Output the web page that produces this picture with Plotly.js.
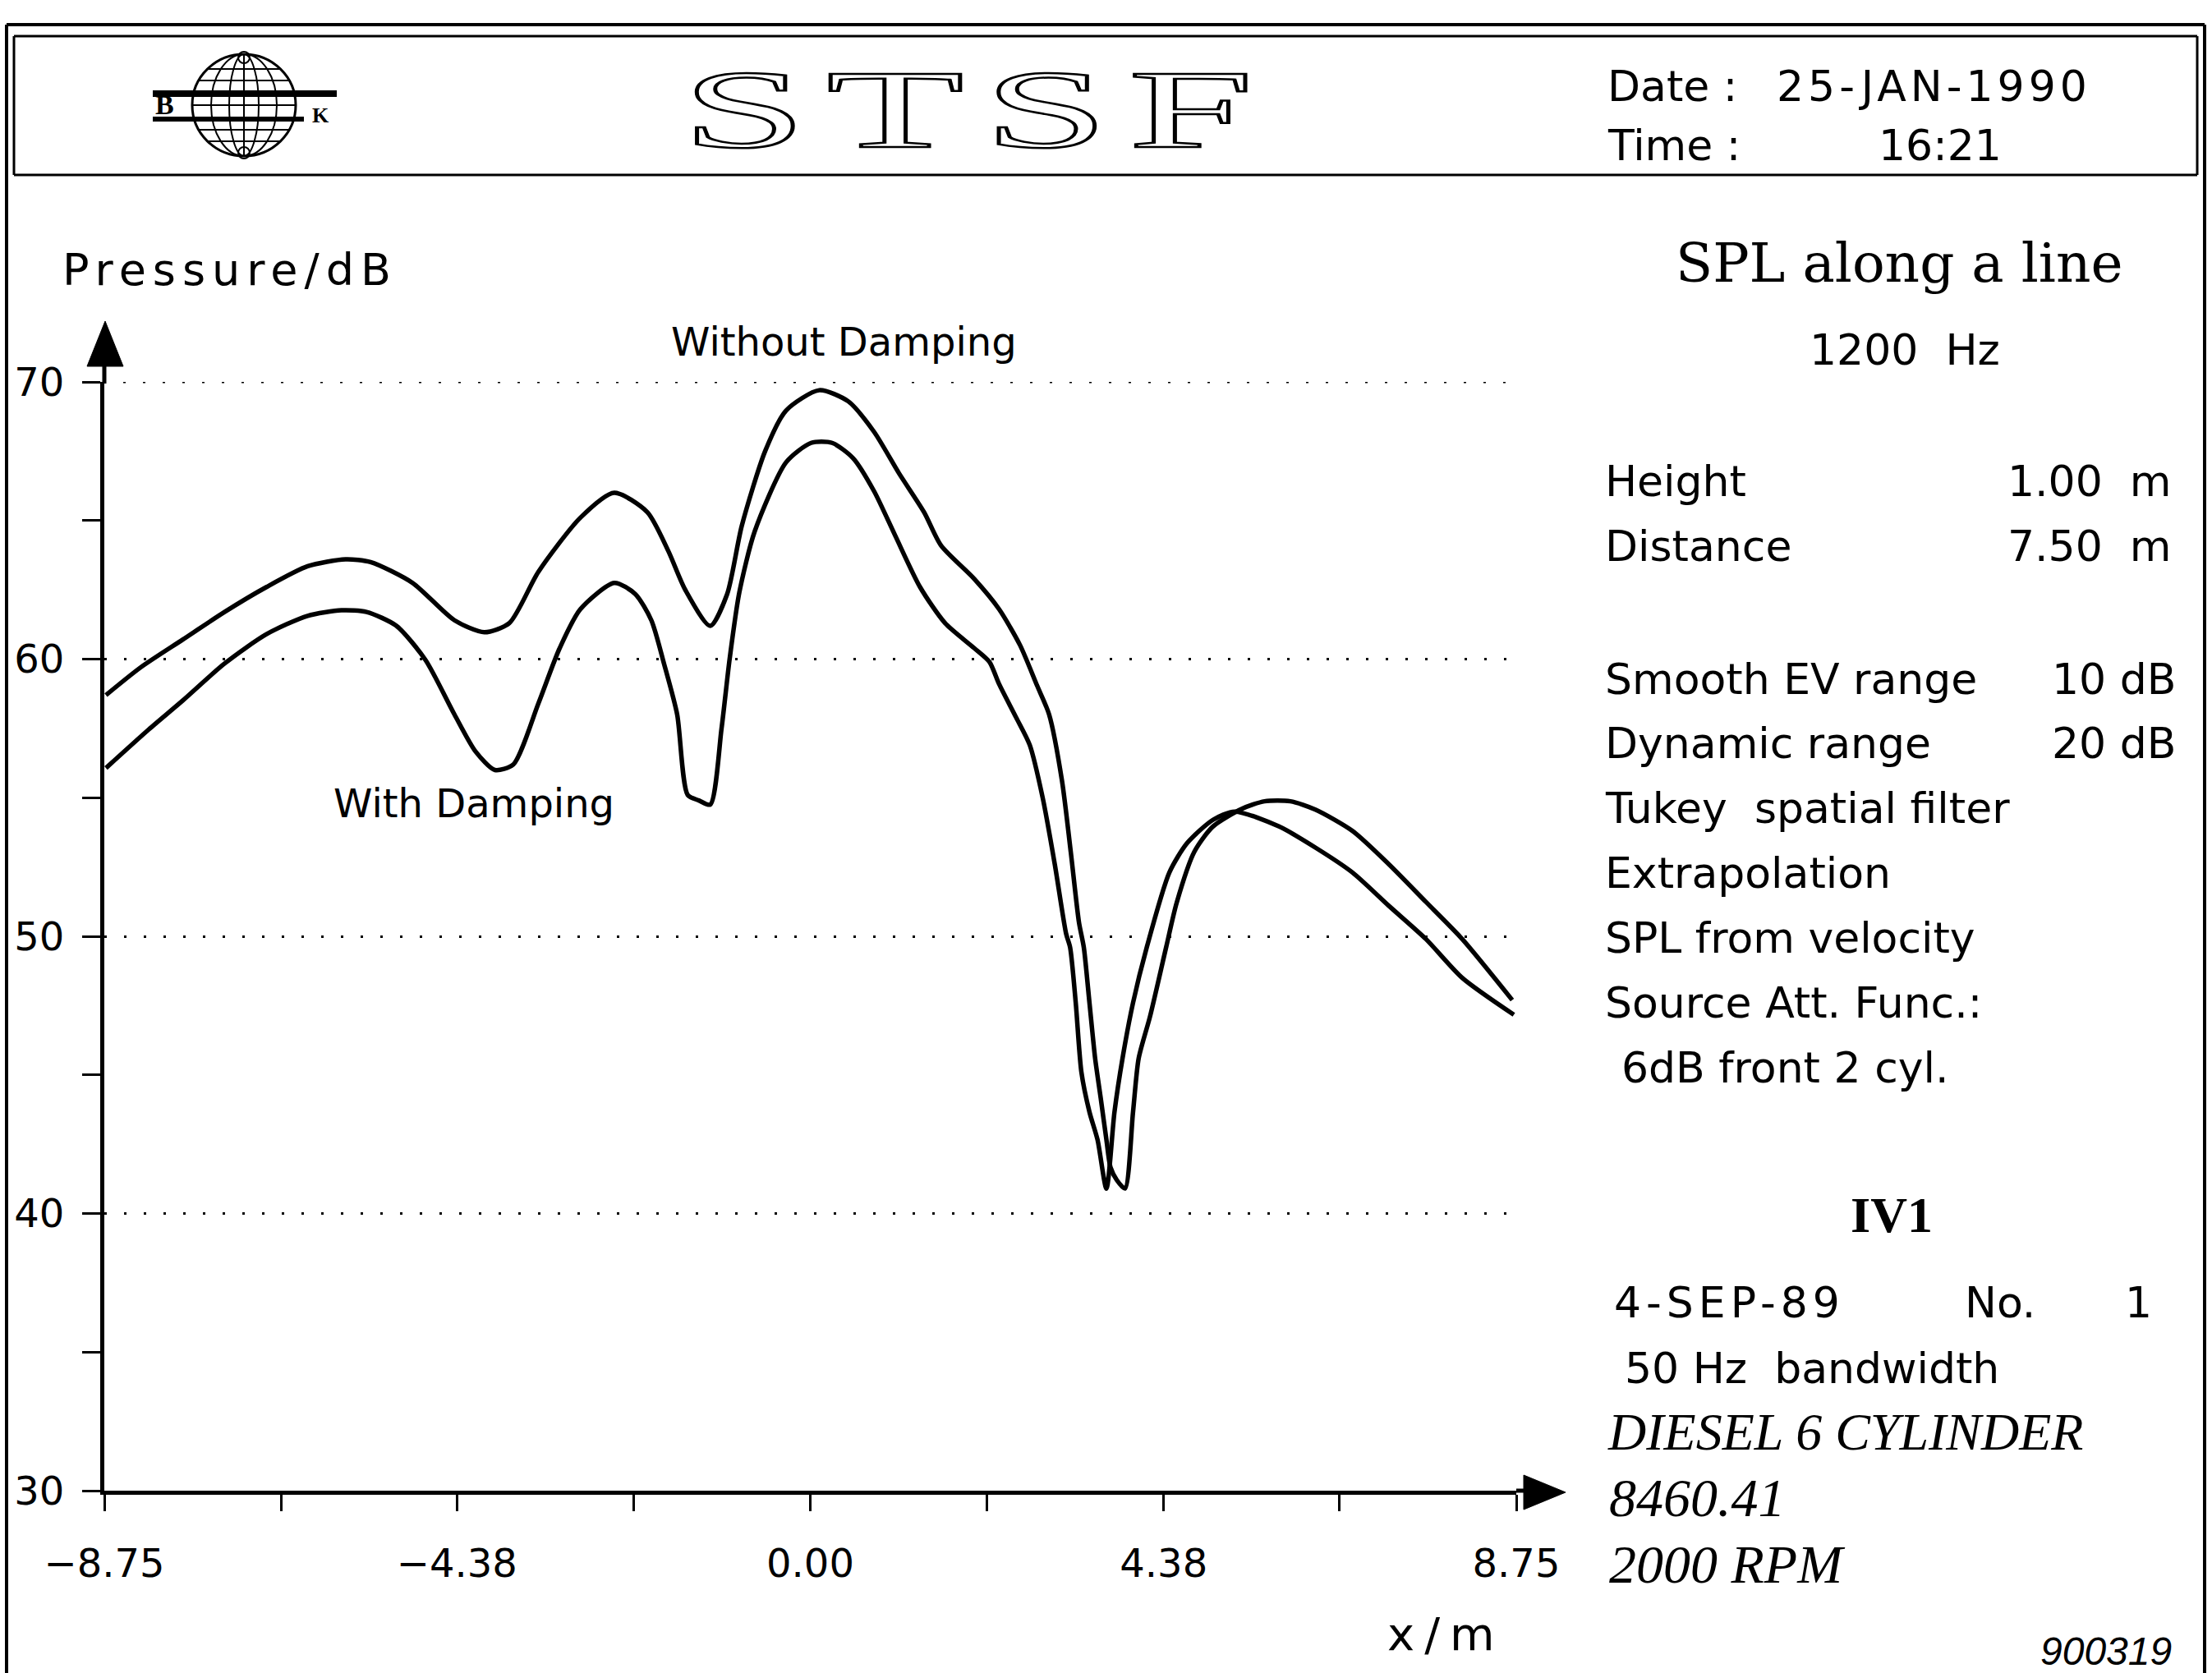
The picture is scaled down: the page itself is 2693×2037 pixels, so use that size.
<!DOCTYPE html>
<html>
<head>
<meta charset="utf-8">
<script src="https://cdn.plot.ly/plotly-3.0.1.min.js"></script>
<style>html,body{margin:0;padding:0;background:#fff;}#chart{width:2693px;height:2037px;}</style>
</head>
<body>
<div id="chart"></div>
<script>
// ---------- data ----------
const xTickVals = [-8.75, -4.38, 0, 4.38, 8.75];
const xTickText = ['\u22128.75', '\u22124.38', '0.00', '4.38', '8.75'];
const xMinorVals = [-6.56, -2.19, 2.19, 6.56];
const yTickVals = [30, 40, 50, 60, 70];
const yTickText = ['30', '40', '50', '60', '70'];
const yMinorVals = [35, 45, 55, 65];
const yGridTop = 70;

const withoutX = [-8.73,-8.30,-7.78,-7.26,-6.74,-6.23,-5.76,-5.45,-4.93,-4.41,-4.04,-3.73,-3.37,-2.85,-2.43,-2.02,-1.76,-1.55,-1.24,-1.03,-0.85,-0.56,-0.30,0.11,0.47,0.79,1.10,1.41,1.62,2.03,2.34,2.60,2.81,2.96,3.12,3.23,3.33,3.39,3.46,3.53,3.60,3.67,3.72,3.80,3.90,4.00,4.07,4.21,4.41,4.54,4.76,4.99,5.35,5.63,5.95,6.26,6.72,7.17,7.63,8.08,8.70];
const withoutY = [58.7,59.7,60.7,61.7,62.6,63.35,63.6,63.5,62.75,61.4,60.97,61.3,63.15,65.1,66.0,65.3,63.9,62.5,61.2,62.35,64.8,67.5,68.97,69.7,69.3,68.2,66.7,65.3,64.1,62.9,61.8,60.5,59.05,58.0,55.6,53.0,50.5,49.6,47.6,45.6,44.15,42.66,41.67,41.2,40.9,43.66,45.6,47.1,49.6,51.2,53.05,53.96,54.6,54.87,54.87,54.57,53.8,52.6,51.24,49.9,47.7];

const withX = [-8.73,-8.20,-7.78,-7.26,-6.74,-6.23,-5.81,-5.50,-5.13,-4.77,-4.41,-4.15,-3.91,-3.68,-3.37,-3.11,-2.85,-2.43,-2.17,-1.97,-1.81,-1.65,-1.52,-1.38,-1.24,-1.10,-1.00,-0.88,-0.69,-0.30,0.01,0.27,0.53,0.79,1.05,1.36,1.67,2.03,2.22,2.34,2.55,2.72,2.88,3.03,3.17,3.22,3.29,3.36,3.46,3.56,3.67,3.77,3.87,4.00,4.17,4.45,4.67,4.99,5.26,5.81,6.26,6.72,7.17,7.63,8.08,8.72];
const withY = [56.07,57.46,58.5,59.84,60.9,61.56,61.76,61.7,61.2,59.97,58.0,56.67,56.0,56.2,58.4,60.37,61.8,62.75,62.35,61.4,59.8,58.0,55.1,54.9,54.75,57.5,60.0,62.4,64.6,67.1,67.8,67.8,67.25,66.06,64.47,62.6,61.3,60.4,59.9,59.1,57.9,56.9,55.0,52.6,50.1,49.6,47.6,45.1,43.66,42.66,40.9,43.66,45.6,47.6,49.6,52.3,53.36,54.2,54.5,53.96,53.2,52.3,51.1,49.9,48.5,47.17];

// ---------- layout helpers (pixel -> paper) ----------
const W = 2693, H = 2037;
const L = 127, R = 1846, T = 465, B = 1815;
const px = X => (X - L) / (R - L);
const py = Y => (B - Y) / (B - T);

const SANS = 'DejaVu Sans';
const SERIF = 'DejaVu Serif';
const TSERIF = 'Liberation Serif';

function ann(text, X, Y, o) {
  o = o || {};
  return {
    text: text, xref: 'paper', yref: 'paper', x: px(X), y: py(Y),
    xanchor: o.xa || 'left', yanchor: 'middle', showarrow: false,
    font: {family: o.family || SANS, size: o.size || 52, color: '#000',
           style: o.style || 'normal', weight: o.weight || 'normal'}
  };
}
function line(X0, Y0, X1, Y1, w) {
  return {type: 'line', xref: 'paper', yref: 'paper', x0: px(X0), y0: py(Y0), x1: px(X1), y1: py(Y1),
          line: {color: '#000', width: w || 3}};
}
function poly(pts) {
  const d = pts.map((p, i) => (i ? 'L' : 'M') + px(p[0]) + ',' + py(p[1])).join(' ') + ' Z';
  return {type: 'path', xref: 'paper', yref: 'paper', path: d, fillcolor: '#000', line: {color: '#000', width: 1}};
}
function ellipse(cx, cy, rx, ry, w) {
  return {type: 'circle', xref: 'paper', yref: 'paper', x0: px(cx - rx), x1: px(cx + rx), y0: py(cy + ry), y1: py(cy - ry),
          line: {color: '#000', width: w || 2}};
}

const NB = '\u00a0';
const annotations = [
  ann('<span style="letter-spacing:8px">Pressure/dB</span>', 74, 329, {size: 54}),
  ann('Without Damping', 1027, 416, {xa: 'center', size: 48}),
  ann('With Damping', 577, 978, {xa: 'center', size: 48}),
  ann('<span style="letter-spacing:12px">x/m</span>', 1760, 1990, {xa: 'center', size: 56}),
  // header
  ann('<span style="fill:none;stroke:#000;stroke-width:2.5px;letter-spacing:12px">STSF</span>', 1190, 133, {xa: 'center', family: TSERIF, size: 136}),
  ann('Date :', 1955, 105),
  ann('<span style="letter-spacing:5px">25-JAN-1990</span>', 2161, 105),
  ann('Time :', 1955, 177),
  ann('16:21', 2285, 177),
  ann('B', 200, 127, {xa: 'center', family: TSERIF, size: 34, weight: 'bold'}),
  ann('K', 390, 140, {xa: 'center', family: TSERIF, size: 26, weight: 'bold'}),
  // right panel
  ann('SPL along a line', 2312, 320, {xa: 'center', family: SERIF, size: 66}),
  ann('1200' + NB + NB + 'Hz', 2319, 426, {xa: 'center'}),
  ann('Height', 1952, 586),
  ann('1.00' + NB + NB + 'm', 2646, 586, {xa: 'right'}),
  ann('Distance', 1952, 665),
  ann('7.50' + NB + NB + 'm', 2646, 665, {xa: 'right'}),
  ann('Smooth EV range', 1952, 827),
  ann('10 dB', 2651, 827, {xa: 'right'}),
  ann('Dynamic range', 1952, 905),
  ann('20 dB', 2651, 905, {xa: 'right'}),
  ann('Tukey' + NB + NB + 'spatial filter', 1952, 984),
  ann('Extrapolation', 1952, 1063),
  ann('SPL from velocity', 1952, 1142),
  ann('Source Att. Func.:', 1952, 1221),
  ann('6dB front 2 cyl.', 1972, 1300),
  ann('IV1', 2303, 1479, {xa: 'center', family: TSERIF, size: 62, weight: 'bold'}),
  ann('<span style="letter-spacing:6px">4-SEP-89</span>', 1963, 1586),
  ann('No.', 2390, 1586),
  ann('1', 2622, 1586, {xa: 'right'}),
  ann('50 Hz' + NB + NB + 'bandwidth', 1976, 1666),
  ann('DIESEL 6 CYLINDER', 1955, 1743, {family: TSERIF, size: 64, style: 'italic'}),
  ann('8460.41', 1957, 1823, {family: TSERIF, size: 66, style: 'italic'}),
  ann('2000 RPM', 1957, 1904, {family: TSERIF, size: 66, style: 'italic'}),
  ann('900319', 2646, 2010, {xa: 'right', family: 'Liberation Sans', size: 48, style: 'italic'})
];

const shapes = [
  // outer frame
  line(8, 30, 2684, 30, 4),
  line(8, 30, 8, 2037, 4),
  line(2684, 30, 2684, 2037, 4),
  // header box
  line(17, 44, 2675, 44, 3),
  line(17, 44, 17, 213, 3),
  line(2675, 44, 2675, 213, 3),
  line(17, 213, 2675, 213, 3),
  // top dotted grid line (plot edge)
  {type: 'line', xref: 'paper', yref: 'y', x0: px(150), x1: 1, y0: yGridTop, y1: yGridTop,
   line: {color: '#000', width: 3, dash: '3px,21px'}},
  // axis extensions and arrow heads
  line(1846, 1815, 1862, 1815, 5),
  poly([[1855, 1796], [1906, 1817], [1855, 1838]]),
  line(127, 467, 127, 440, 5),
  poly([[106, 446], [128, 391], [150, 446]]),
  // globe logo
  ellipse(297, 128, 63, 62, 3),
  ellipse(297, 128, 40, 62, 2),
  ellipse(297, 128, 18, 62, 2),
  line(297, 66, 297, 190, 2),
  ellipse(297, 70, 7, 7, 2),
  ellipse(297, 186, 7, 7, 2)
];
[84, 98, 128, 158, 172].forEach(Y => {
  const dy = Y - 128, hw = Math.sqrt(Math.max(0, 63 * 63 - dy * dy));
  shapes.push(line(297 - hw, Y, 297 + hw, Y, 2));
});
shapes.push(line(186, 114, 410, 114, 8));
shapes.push(line(186, 145, 370, 145, 6));

const traces = [
  {x: withoutX, y: withoutY, type: 'scatter', mode: 'lines', name: 'Without Damping',
   line: {color: '#000', width: 5.5, shape: 'spline', smoothing: 0.7}},
  {x: withX, y: withY, type: 'scatter', mode: 'lines', name: 'With Damping',
   line: {color: '#000', width: 5.5, shape: 'spline', smoothing: 0.7}}
];

const layout = {
  width: W, height: H,
  paper_bgcolor: '#fff', plot_bgcolor: '#fff',
  showlegend: false,
  margin: {l: L, r: W - R, t: T, b: H - B, pad: 0},
  font: {family: SANS, color: '#000'},
  xaxis: {
    range: [-8.75, 8.75], tickmode: 'array', tickvals: xTickVals, ticktext: xTickText,
    ticks: 'outside', ticklen: 20, tickwidth: 3, tickcolor: '#000',
    showgrid: false, zeroline: false, showline: true, linewidth: 5, linecolor: '#000',
    tickfont: {family: SANS, size: 48, color: '#000'}, ticklabelstandoff: 22,
    minor: {tickmode: 'array', tickvals: xMinorVals, ticks: 'outside', ticklen: 20, tickwidth: 3, tickcolor: '#000', showgrid: false},
    fixedrange: true
  },
  yaxis: {
    range: [30, 70], tickmode: 'array', tickvals: yTickVals, ticktext: yTickText,
    ticks: 'outside', ticklen: 22, tickwidth: 3, tickcolor: '#000',
    showgrid: true, gridcolor: '#000', gridwidth: 3, griddash: '3px,21px',
    zeroline: false, showline: true, linewidth: 5, linecolor: '#000',
    tickfont: {family: SANS, size: 48, color: '#000'}, ticklabelstandoff: 12,
    minor: {tickmode: 'array', tickvals: yMinorVals, ticks: 'outside', ticklen: 22, tickwidth: 3, tickcolor: '#000', showgrid: false},
    fixedrange: true
  },
  annotations: annotations,
  shapes: shapes
};

Plotly.newPlot('chart', traces, layout, {staticPlot: true, displayModeBar: false}).then(() => {
  document.querySelectorAll('.annotation-text').forEach(t => {
    if (t.textContent === 'STSF') {
      t.setAttribute('textLength', '720');
      t.setAttribute('lengthAdjust', 'spacingAndGlyphs');
    }
  });
});
</script>
</body>
</html>
